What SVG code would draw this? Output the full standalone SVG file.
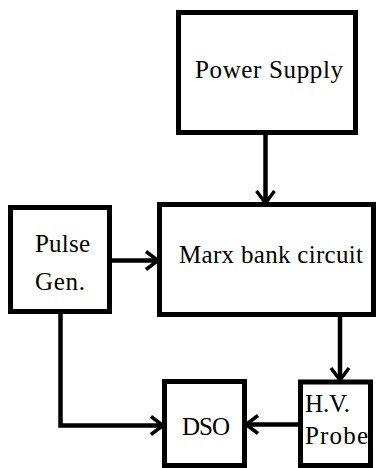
<svg xmlns="http://www.w3.org/2000/svg" width="376" height="468" viewBox="0 0 376 468">
<style>
.box{fill:#fff;stroke:#000;stroke-width:5}
.lbl{font-family:"Liberation Serif","DejaVu Serif",serif;font-size:25px;fill:#000}
.wire{fill:none;stroke:#000;stroke-width:4.5}
</style>
<defs>
<marker id="arr" markerUnits="userSpaceOnUse" markerWidth="30" markerHeight="30" viewBox="-15 -15 30 30" refX="0" refY="0" orient="auto">
<path d="M-12,-9 L0,0 L-12,9" fill="none" stroke="#000" stroke-width="3.5"/>
</marker>
</defs>
<rect width="376" height="468" fill="#fff"/>
<g id="power-supply">
<rect class="box" x="178.5" y="12.5" width="177" height="120"/>
<text class="lbl" x="195" y="78" textLength="148">Power Supply</text>
</g>
<g id="marx">
<rect class="box" x="159.5" y="204.5" width="214" height="110"/>
<text class="lbl" x="179" y="263" textLength="184">Marx bank circuit</text>
</g>
<g id="pulse-gen">
<rect class="box" x="10.5" y="207.5" width="99" height="104"/>
<text class="lbl" x="35" y="252" textLength="55">Pulse</text>
<text class="lbl" x="35" y="290" textLength="50">Gen.</text>
</g>
<g id="dso">
<rect class="box" x="164.5" y="381.5" width="80" height="84"/>
<text class="lbl" x="182" y="435" textLength="48">DSO</text>
</g>
<g id="hv-probe">
<rect class="box" x="300.5" y="382" width="70" height="83.5"/>
<text class="lbl" x="305" y="412" textLength="45">H.V.</text>
<text class="lbl" x="305" y="444" textLength="63">Probe</text>
</g>
<g id="connectors">
<path class="wire" d="M265.5 135 V203" marker-end="url(#arr)"/>
<path class="wire" d="M112 260.5 H158" marker-end="url(#arr)"/>
<path class="wire" d="M340 317 V380" marker-end="url(#arr)"/>
<path class="wire" d="M60.5 314 V425.5 H163" marker-end="url(#arr)"/>
<path class="wire" d="M298 424.5 H246" marker-end="url(#arr)"/>
</g>
</svg>
